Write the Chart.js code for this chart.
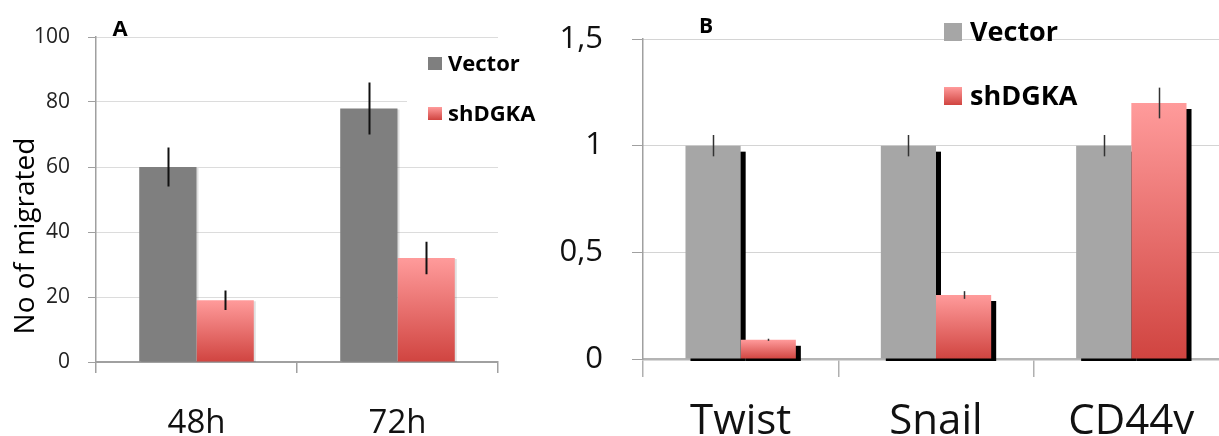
<!DOCTYPE html>
<html>
<head>
<meta charset="utf-8">
<script src="https://cdn.jsdelivr.net/npm/chart.js@4.4.0/dist/chart.umd.min.js"></script>
<style>
    html, body { margin: 0; padding: 0; background: #fff; overflow: hidden; width: 1219px; height: 436px; }
    #chartA { position: absolute; left: 0; top: 0; }
    #chartB { position: absolute; left: 560px; top: 0; }
</style>
</head>
<body>
<canvas id="chartA" width="560" height="436"></canvas>
<canvas id="chartB" width="680" height="436"></canvas>
<script>
// === Data panel A (No of migrated) ===
const groupsA = ['48h', '72h'];
const vectorA = [60, 78];
const vectorErrA = [6, 8];
const shA = [19, 32];
const shErrA = [3, 5];

// === Data panel B (relative expression) ===
const groupsB = ['Twist', 'Snail', 'CD44v'];
const vectorB = [1, 1, 1];
const vectorErrB = [0.05, 0.05, 0.05];
const shB = [0.09, 0.3, 1.2];
const shErrB = [0.005, 0.018, 0.072];
const ticksB = [0, 0.5, 1, 1.5];
const tickLabelsB = ['0', '0,5', '1', '1,5'];

const FONT = "'Open Sans', 'DejaVu Sans', sans-serif";

// red gradient from the top of each bar down to zero
function redGradient(c) {
    const chart = c.chart;
    if (!chart.chartArea || c.type !== 'data') return '#e06464';
    const y = chart.scales.y;
    const top = y.getPixelForValue(c.raw);
    const bot = y.getPixelForValue(0);
    const g = chart.ctx.createLinearGradient(0, top, 0, bot);
    g.addColorStop(0, '#ff9b9b');
    g.addColorStop(1, '#d04440');
    return g;
}

// drop shadow behind bars
const barShadows = {
    id: 'barShadows',
    beforeDatasetsDraw(chart, args, opts) {
        if (!opts.dx) return;
        const { ctx, chartArea } = chart;
        ctx.save();
        ctx.beginPath();
        ctx.rect(chartArea.left, chartArea.top, chartArea.width + 20, chartArea.height + opts.below);
        ctx.clip();
        ctx.fillStyle = opts.color;
        chart.data.datasets.forEach((ds, i) => {
            chart.getDatasetMeta(i).data.forEach(bar => {
                ctx.fillRect(bar.x - bar.width / 2 + opts.dx, bar.y + opts.dy, bar.width, bar.base - bar.y);
            });
        });
        ctx.restore();
    }
};

// vertical error lines, no caps
const errorBars = {
    id: 'errorBars',
    afterDatasetsDraw(chart, args, opts) {
        const { ctx } = chart;
        const y = chart.scales.y;
        ctx.save();
        ctx.strokeStyle = opts.color;
        ctx.lineWidth = opts.width;
        chart.data.datasets.forEach((ds, i) => {
            chart.getDatasetMeta(i).data.forEach((bar, j) => {
                const v = ds.data[j], e = ds.errors[j];
                const x = Math.round(bar.x) + 0.5;
                ctx.beginPath();
                ctx.moveTo(x, y.getPixelForValue(v + e));
                ctx.lineTo(x, y.getPixelForValue(v - e));
                ctx.stroke();
            });
        });
        ctx.restore();
    }
};

// panel letter, axis title and legend
const panelText = {
    id: 'panelText',
    afterDraw(chart, args, opts) {
        const { ctx } = chart;
        ctx.save();
        (opts.texts || []).forEach(t => {
            ctx.save();
            ctx.font = t.font;
            ctx.fillStyle = '#000';
            ctx.textAlign = 'center';
            ctx.textBaseline = 'middle';
            ctx.translate(t.x, t.y);
            if (t.rotate) ctx.rotate(t.rotate);
            ctx.fillText(t.text, 0, 0);
            ctx.restore();
        });
        const lg = opts.legend;
        if (lg) {
            if (lg.bg) {
                ctx.fillStyle = '#fff';
                ctx.fillRect(lg.bg[0], lg.bg[1], lg.bg[2], lg.bg[3]);
            }
            chart.data.datasets.forEach((ds, i) => {
                const top = lg.y + i * lg.gap;
                let fill = ds.legendColor;
                if (ds.legendGradient) {
                    fill = ctx.createLinearGradient(0, top, 0, top + lg.h);
                    fill.addColorStop(0, '#ff9b9b');
                    fill.addColorStop(1, '#d04440');
                }
                ctx.fillStyle = fill;
                ctx.fillRect(lg.x, top, lg.w, lg.h);
                ctx.fillStyle = '#000';
                ctx.font = lg.font;
                ctx.textAlign = 'left';
                ctx.textBaseline = 'middle';
                ctx.fillText(ds.label, lg.x + lg.w + lg.pad, top + lg.h / 2 + 1);
            });
        }
        ctx.restore();
    }
};

// 1. Panel A
new Chart(document.getElementById('chartA'), {
    type: 'bar',
    data: {
        labels: groupsA,
        datasets: [{
            label: 'Vector',
            data: vectorA,
            errors: vectorErrA,
            backgroundColor: '#7f7f7f',
            legendColor: '#7f7f7f',
            categoryPercentage: 0.57,
            barPercentage: 1
        }, {
            label: 'shDGKA',
            data: shA,
            errors: shErrA,
            backgroundColor: redGradient,
            legendGradient: true,
            categoryPercentage: 0.57,
            barPercentage: 1
        }]
    },
    plugins: [barShadows, errorBars, panelText],
    options: {
        responsive: false,
        animation: false,
        layout: { padding: { left: 0, right: 62, top: 37, bottom: 0 } },
        plugins: {
            legend: { display: false },
            tooltip: { enabled: false },
            barShadows: { dx: 2, dy: 1, below: 0, color: 'rgba(0,0,0,0.12)' },
            errorBars: { color: '#111', width: 2 },
            panelText: {
                texts: [
                    { text: 'A', x: 120, y: 30, font: `bold 22px ${FONT}` },
                    { text: 'No of migrated', x: 26, y: 236, rotate: -Math.PI / 2, font: `28px ${FONT}` }
                ],
                legend: { x: 428, y: 57, w: 14, h: 13, gap: 50, pad: 6, font: `bold 22px ${FONT}`, bg: [407, 48, 153, 80] }
            }
        },
        scales: {
            x: {
                offset: true,
                grid: { offset: true, drawOnChartArea: false, tickLength: 11, tickColor: '#a0a0a0', lineWidth: 1.5 },
                border: { color: '#a0a0a0', width: 2 },
                ticks: { font: { family: FONT, size: 33 }, color: '#111', padding: 31 },
                afterFit: s => { s.height = 436 - 362; }
            },
            y: {
                min: 0,
                max: 100,
                ticks: { stepSize: 20, font: { family: FONT, size: 21 }, color: '#222', padding: 18 },
                grid: { color: '#b8b8b8', tickColor: '#a0a0a0', tickLength: 8, lineWidth: 1 },
                border: { color: '#a0a0a0', width: 1.5, dash: [1, 1] },
                afterFit: s => { s.width = 96; }
            }
        }
    }
});

// 2. Panel B
new Chart(document.getElementById('chartB'), {
    type: 'bar',
    data: {
        labels: groupsB,
        datasets: [{
            label: 'Vector',
            data: vectorB,
            errors: vectorErrB,
            backgroundColor: '#a6a6a6',
            legendColor: '#a6a6a6',
            categoryPercentage: 0.565,
            barPercentage: 1
        }, {
            label: 'shDGKA',
            data: shB,
            errors: shErrB,
            backgroundColor: redGradient,
            legendGradient: true,
            categoryPercentage: 0.565,
            barPercentage: 1
        }]
    },
    plugins: [barShadows, errorBars, panelText],
    options: {
        responsive: false,
        animation: false,
        layout: { padding: { left: 0, right: 11, top: 39, bottom: 0 } },
        plugins: {
            legend: { display: false },
            tooltip: { enabled: false },
            barShadows: { dx: 5, dy: 6, below: 2, color: '#000' },
            errorBars: { color: '#333', width: 1.5 },
            panelText: {
                texts: [
                    { text: 'B', x: 146, y: 27, font: `bold 21px ${FONT}` }
                ],
                legend: { x: 384, y: 23, w: 18, h: 18, gap: 64, pad: 8, font: `bold 27px ${FONT}` }
            }
        },
        scales: {
            x: {
                offset: true,
                grid: { offset: true, drawOnChartArea: false, tickLength: 18, tickColor: '#b0b0b0', lineWidth: 1.5 },
                border: { color: '#b4b4b4', width: 2.5 },
                ticks: { font: { family: FONT, size: 42 }, color: '#111', padding: 20 },
                afterFit: s => { s.height = 436 - 359; }
            },
            y: {
                min: 0,
                max: 1.5,
                ticks: {
                    stepSize: 0.5,
                    // small lineHeight keeps the label padding from pushing the plot down
                    font: { family: FONT, size: 31, lineHeight: 0.6 },
                    color: '#111',
                    padding: 29,
                    callback: v => tickLabelsB[ticksB.indexOf(v)]
                },
                grid: { color: '#a8a8a8', tickColor: '#a0a0a0', tickLength: 11, lineWidth: 1 },
                border: { color: '#a0a0a0', width: 1.5, dash: [1, 1] },
                afterFit: s => { s.width = 83; }
            }
        }
    }
});
</script>
</body>
</html>
